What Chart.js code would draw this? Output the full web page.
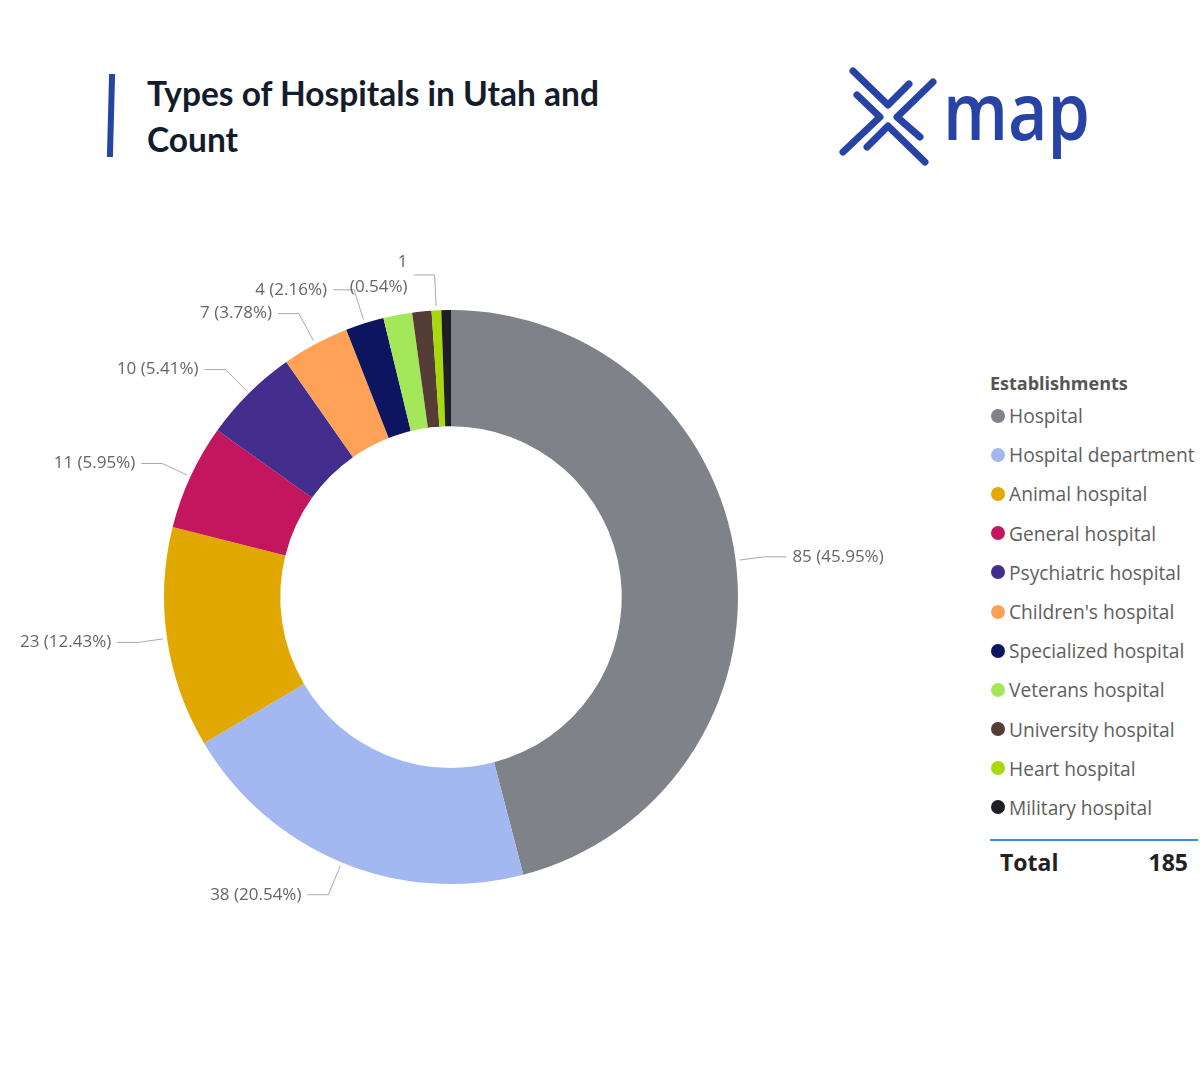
<!DOCTYPE html>
<html>
<head>
<meta charset="utf-8">
<script src="https://cdn.jsdelivr.net/npm/chart.js@4.4.1/dist/chart.umd.min.js"></script>
<style>
  html, body { margin: 0; padding: 0; background: #fff; }
  body { width: 1200px; height: 1080px; position: relative; overflow: hidden; font-family: "Open Sans", sans-serif; }
  #bar { position: absolute; left: 108px; top: 74px; width: 6px; height: 83px; background: #2545a3; transform: skewX(-1.5deg); }
  #title { position: absolute; left: 147px; top: 70px; font: bold 33.5px/46px Lato, sans-serif; color: #141c2c; }
  #logo { position: absolute; left: 830px; top: 60px; }
  #chartBox { position: absolute; left: 0; top: 200px; }
  #legend { position: absolute; left: 990px; top: 370px; width: 210px; }
  #legend .lt { font: bold 18px "Open Sans", sans-serif; color: #555; height: 26px; line-height: 26px; margin-bottom: 0; }
  #legend .it { height: 39.2px; display: flex; align-items: center; font-size: 19.2px; color: #605e5c; white-space: nowrap; margin-left: 1px; }
  #legend .dot { width: 14px; height: 14px; border-radius: 50%; margin-right: 4px; flex: none; }
  #totalLine { position: absolute; left: 990px; top: 839px; width: 208px; height: 2px; background: #3d8ee0; }
  #total { position: absolute; left: 1000px; top: 846px; width: 188px; font: bold 23px "Open Sans", sans-serif; color: #222; display: flex; justify-content: space-between; }
</style>
</head>
<body>
<div id="bar"></div>
<div id="title">Types of Hospitals in Utah and<br>Count</div>
<svg id="logo" width="280" height="120" viewBox="830 60 280 120">
  <g fill="none" stroke="#2743a6" stroke-width="7" stroke-linecap="round" stroke-linejoin="round">
    <polyline points="853,71 888,105 909,84"/>
    <polyline points="857,95 880,117 843,152"/>
    <polyline points="933,82 897,117 920,137"/>
    <polyline points="867,147 888,126 925,162"/>
  </g>
  <text x="943" y="140" font-family="Open Sans" font-weight="600" font-size="80" fill="#2743a6" textLength="147" lengthAdjust="spacingAndGlyphs">map</text>
</svg>
<div id="chartBox"><canvas id="c" width="902" height="794"></canvas></div>
<div id="legend"></div>
<div id="totalLine"></div>
<div id="total"><span>Total</span><span id="totalVal"></span></div>
<script>
const legendTitle = 'Establishments';
const categories = ['Hospital', 'Hospital department', 'Animal hospital', 'General hospital', 'Psychiatric hospital',
  "Children's hospital", 'Specialized hospital', 'Veterans hospital', 'University hospital', 'Heart hospital', 'Military hospital'];
const counts = [85, 38, 23, 11, 10, 7, 4, 3, 2, 1, 1];
const colors = ['#808289', '#a3b8f0', '#e0a800', '#c4165f', '#432e8e', '#ffa257', '#0e1560', '#a4e85a', '#553c37', '#a8d90a', '#1e1e24'];
// which slices get a data label (Power BI hides the crowded ones)
const showLabel = [true, true, true, true, true, true, true, false, false, true, false];
// the heart hospital label wraps onto two lines
const wrapLabel = [false, false, false, false, false, false, false, false, false, true, false];

const total = counts.reduce((a, b) => a + b, 0);
document.getElementById('totalVal').textContent = total;

// html legend
const legendEl = document.getElementById('legend');
legendEl.innerHTML = '<div class="lt">' + legendTitle + '</div>' +
  categories.map((c, i) => '<div class="it"><span class="dot" style="background:' + colors[i] + '"></span>' + c + '</div>').join('');

// leader lines + labels outside the ring
const outsideLabels = {
  id: 'outsideLabels',
  afterDatasetsDraw(chart) {
    const ctx = chart.ctx;
    const arcs = chart.getDatasetMeta(0).data;
    ctx.save();
    ctx.font = '17px "Open Sans", sans-serif';
    ctx.textBaseline = 'middle';
    arcs.forEach((arc, i) => {
      if (!showLabel[i]) return;
      const a = (arc.startAngle + arc.endAngle) / 2;
      const r = arc.outerRadius;
      const cos = Math.cos(a), sin = Math.sin(a);
      const x0 = arc.x + (r + 4) * cos, y0 = arc.y + (r + 4) * sin;
      const off = 28 + 7.5 * Math.abs(sin);
      const x1 = arc.x + (r + off) * cos, y1 = arc.y + (r + off) * sin;
      const right = cos >= 0;
      const x2 = x1 + (right ? 22 : -21);
      ctx.strokeStyle = '#aaa';
      ctx.lineWidth = 1;
      ctx.beginPath();
      ctx.moveTo(x0, y0);
      ctx.lineTo(x1, y1);
      ctx.lineTo(x2, y1);
      ctx.stroke();
      const pct = (counts[i] / total * 100).toFixed(2) + '%';
      ctx.fillStyle = '#666';
      ctx.textAlign = right ? 'left' : 'right';
      const tx = x2 + (right ? 6 : -6);
      if (wrapLabel[i]) {
        ctx.fillText(String(counts[i]), tx, y1 - 12.5);
        ctx.fillText('(' + pct + ')', tx, y1 + 12.5);
      } else {
        ctx.fillText(counts[i] + ' (' + pct + ')', tx, y1);
      }
    });
    ctx.restore();
  }
};

new Chart(document.getElementById('c'), {
  type: 'doughnut',
  data: {
    labels: categories,
    datasets: [{
      data: counts,
      backgroundColor: colors,
      borderWidth: 0
    }]
  },
  options: {
    responsive: false,
    animation: false,
    cutout: '59.5%',
    layout: { padding: 110 },
    plugins: {
      legend: { display: false },
      tooltip: { enabled: false }
    }
  },
  plugins: [outsideLabels]
});
</script>
</body>
</html>
